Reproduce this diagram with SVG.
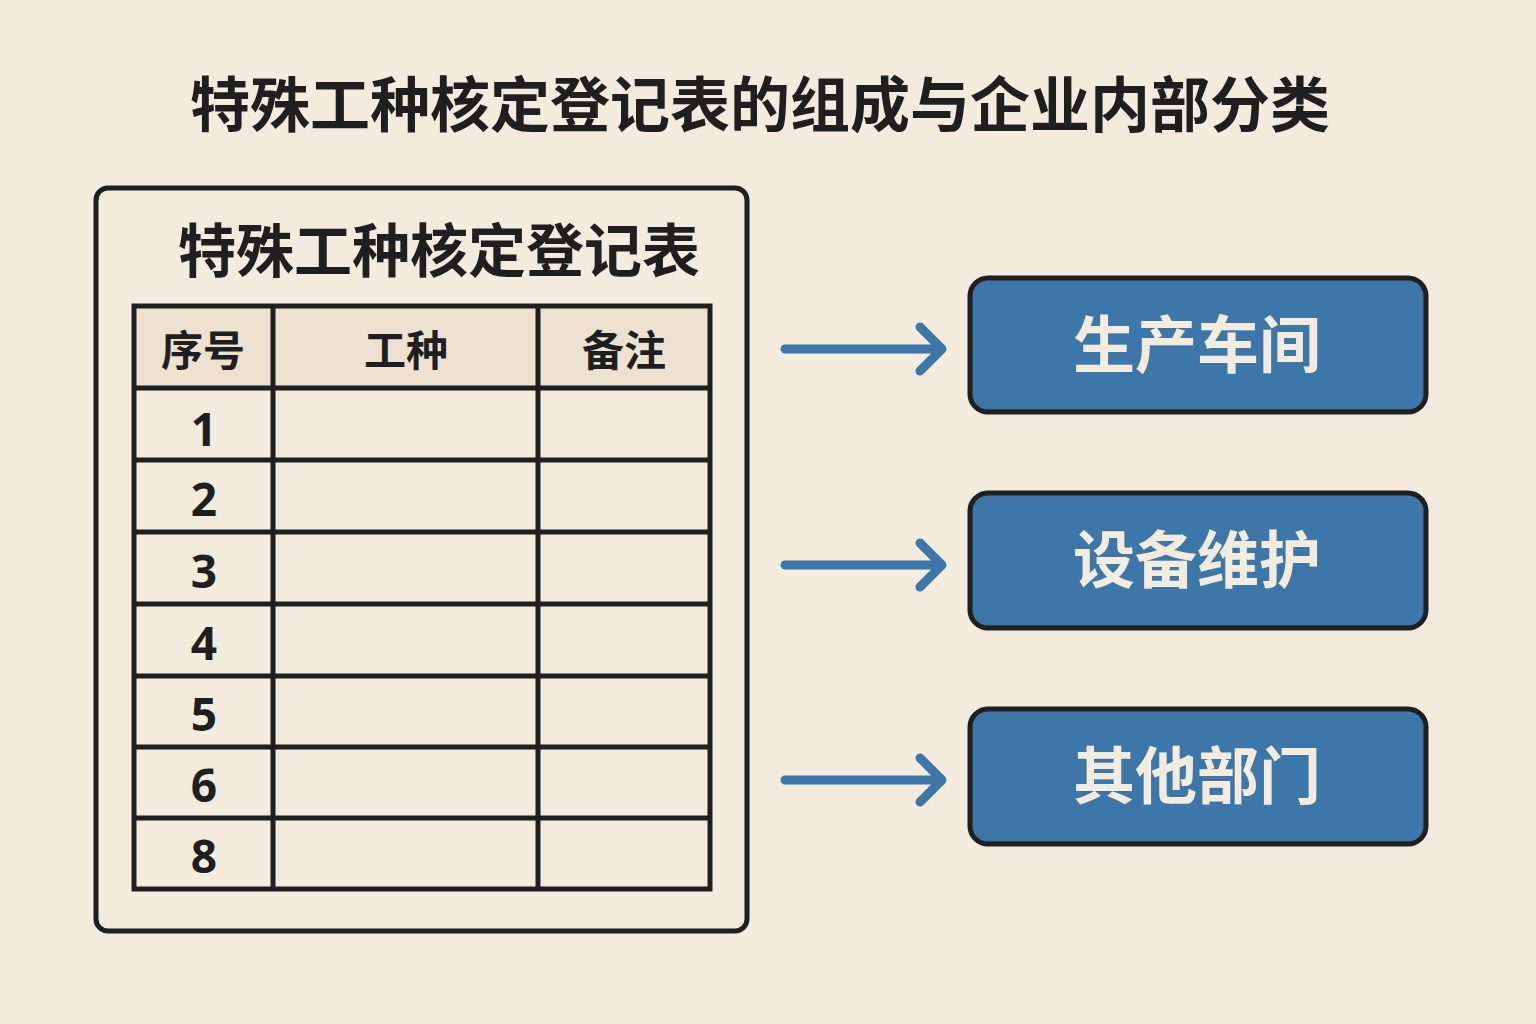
<svg xmlns="http://www.w3.org/2000/svg" width="1536" height="1024" viewBox="0 0 1536 1024">
<style>
text{font-family:"Noto Sans CJK SC","Liberation Sans",sans-serif;font-weight:bold;fill:#1f1f1f;text-anchor:middle}
.ln{stroke:#1f1f1f;stroke-width:5;fill:none}
.box{fill:#3d77aa;stroke:#1f1f1f;stroke-width:5}
.bt{fill:#f3ebdd;font-size:62px}
.num{font-size:46px;font-family:"Noto Sans","Liberation Sans",sans-serif}
.arr{stroke:#3d77aa;stroke-width:9;fill:none;stroke-linecap:round;stroke-linejoin:round}
</style>
<rect width="1536" height="1024" fill="#f3ebdd"/>
<text x="760" y="127" font-size="60">特殊工种核定登记表的组成与企业内部分类</text>
<g id="table">
<rect x="96" y="188" width="651" height="743" rx="12" fill="#f6eee0" class="ln"/>
<text x="439" y="272" font-size="58">特殊工种核定登记表</text>
<rect x="134" y="306" width="576" height="82" fill="#ece2cf"/>
<rect x="134" y="306" width="576" height="583" class="ln"/>
<path class="ln" d="M273 306V889M538 306V889M134 388H710M134 460H710M134 532H710M134 604H710M134 676H710M134 747H710M134 818H710"/>
<text x="203" y="366" font-size="42">序号</text>
<text x="406" y="366" font-size="42">工种</text>
<text x="624" y="366" font-size="42">备注</text>
<text class="num" x="204" y="446">1</text>
<text class="num" x="204" y="516">2</text>
<text class="num" x="204" y="588">3</text>
<text class="num" x="204" y="660">4</text>
<text class="num" x="204" y="731">5</text>
<text class="num" x="204" y="802">6</text>
<text class="num" x="204" y="873">8</text>
</g>
<g id="connectors">
<path class="arr" d="M785 349H942M920 327L942 349L920 371"/>
<path class="arr" d="M785 565H942M920 543L942 565L920 587"/>
<path class="arr" d="M785 780H942M920 758L942 780L920 802"/>
</g>
<g id="n1"><rect class="box" x="970" y="278" width="456" height="134" rx="18"/><text class="bt" x="1197" y="368">生产车间</text></g>
<g id="n2"><rect class="box" x="970" y="493" width="456" height="135" rx="18"/><text class="bt" x="1197" y="583">设备维护</text></g>
<g id="n3"><rect class="box" x="970" y="709" width="456" height="135" rx="18"/><text class="bt" x="1197" y="799">其他部门</text></g>
</svg>
